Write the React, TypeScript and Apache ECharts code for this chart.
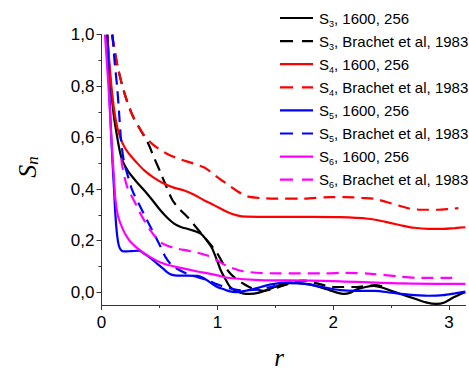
import React, { useEffect, useRef } from "react";
import * as echarts from "echarts";

const seriesNames = [
  "S3, 1600, 256",
  "S3, Brachet et al, 1983",
  "S4, 1600, 256",
  "S4, Brachet et al, 1983",
  "S5, 1600, 256",
  "S5, Brachet et al, 1983",
  "S6, 1600, 256",
  "S6, Brachet et al, 1983",
];
const seriesColors = ["#000000", "#000000", "#ff0000", "#ff0000", "#0000ff", "#0000ff", "#ff00ff", "#ff00ff"];
const seriesDashed = [false, true, false, true, false, true, false, true];

const s3Sim = [
  [0.05, 1.0], [0.08, 0.8], [0.105, 0.69], [0.125, 0.63], [0.17, 0.525], [0.225, 0.473], [0.3, 0.43],
  [0.37, 0.395], [0.44, 0.357], [0.51, 0.317], [0.57, 0.288], [0.63, 0.265], [0.69, 0.252], [0.74, 0.246],
  [0.8, 0.238], [0.86, 0.226], [0.91, 0.2], [0.95, 0.174], [1.0, 0.12], [1.03, 0.084], [1.07, 0.05],
  [1.11, 0.02], [1.17, 0.002], [1.23, -0.006], [1.28, -0.007], [1.36, -0.002], [1.45, 0.012], [1.54, 0.027],
  [1.62, 0.035], [1.72, 0.034], [1.8, 0.03], [1.88, 0.02], [1.95, 0.01], [2.02, 0.0], [2.09, -0.007],
  [2.15, -0.002], [2.2, 0.01], [2.28, 0.02], [2.35, 0.024], [2.42, 0.018], [2.5, 0.005], [2.6, -0.01],
  [2.7, -0.025], [2.8, -0.04], [2.89, -0.046], [2.96, -0.04], [3.04, -0.02], [3.1, -0.007], [3.14, 0.0],
];
const s3Brachet = [
  [0.09, 1.0], [0.136, 0.883], [0.194, 0.779], [0.266, 0.688], [0.34, 0.627], [0.4, 0.58], [0.456, 0.52],
  [0.514, 0.46], [0.56, 0.41], [0.614, 0.356], [0.68, 0.32], [0.744, 0.291], [0.82, 0.25], [0.888, 0.213],
  [0.95, 0.18], [1.0, 0.15], [1.05, 0.11], [1.09, 0.084], [1.13, 0.064], [1.21, 0.037], [1.3, 0.015],
  [1.4, 0.005], [1.5, 0.015], [1.6, 0.03], [1.74, 0.045], [1.85, 0.035], [2.0, 0.02], [2.2, 0.02],
  [2.36, 0.027], [2.45, 0.02],
];
const s4Sim = [
  [0.05, 1.0], [0.07, 0.88], [0.093, 0.766], [0.115, 0.69], [0.139, 0.635], [0.18, 0.58], [0.225, 0.545],
  [0.3, 0.505], [0.369, 0.473], [0.45, 0.445], [0.542, 0.421], [0.63, 0.405], [0.715, 0.395], [0.8, 0.378],
  [0.888, 0.356], [0.97, 0.338], [1.09, 0.31], [1.17, 0.298], [1.25, 0.293], [1.5, 0.292], [1.8, 0.292],
  [2.06, 0.291], [2.3, 0.285], [2.45, 0.273], [2.59, 0.259], [2.7, 0.25], [2.82, 0.246], [2.95, 0.246],
  [3.05, 0.249], [3.14, 0.252],
];
const s4Brachet = [
  [0.093, 1.0], [0.136, 0.883], [0.194, 0.779], [0.266, 0.688], [0.367, 0.61], [0.44, 0.575], [0.51, 0.552],
  [0.6, 0.53], [0.687, 0.515], [0.79, 0.5], [0.888, 0.484], [0.95, 0.464], [1.02, 0.44], [1.09, 0.418],
  [1.17, 0.393], [1.25, 0.373], [1.38, 0.365], [1.51, 0.363], [1.74, 0.363], [1.97, 0.369], [2.1, 0.369],
  [2.25, 0.366], [2.36, 0.362], [2.46, 0.35], [2.56, 0.337], [2.66, 0.325], [2.76, 0.32], [2.9, 0.32],
  [3.02, 0.324], [3.08, 0.326],
];
const s5Sim = [
  [0.05, 1.0], [0.07, 0.75], [0.093, 0.52], [0.108, 0.4], [0.12, 0.3], [0.135, 0.22], [0.15, 0.18],
  [0.17, 0.163], [0.194, 0.158], [0.25, 0.159], [0.323, 0.161], [0.36, 0.152], [0.395, 0.142], [0.44, 0.126],
  [0.482, 0.11], [0.53, 0.092], [0.568, 0.077], [0.61, 0.067], [0.655, 0.064], [0.74, 0.064], [0.83, 0.063],
  [0.88, 0.055], [0.93, 0.04], [1.0, 0.02], [1.05, 0.012], [1.1, 0.004], [1.16, 0.0], [1.23, 0.004],
  [1.31, 0.012], [1.45, 0.029], [1.55, 0.036], [1.62, 0.038], [1.7, 0.035], [1.8, 0.029], [1.93, 0.018],
  [2.06, 0.008], [2.2, 0.005], [2.36, 0.005], [2.5, -0.002], [2.65, -0.01], [2.82, -0.014], [2.95, -0.012],
  [3.05, -0.005], [3.14, 0.002],
];
const s5Brachet = [
  [0.095, 1.0], [0.113, 0.896], [0.136, 0.792], [0.153, 0.688], [0.17, 0.584], [0.194, 0.507], [0.222, 0.46],
  [0.266, 0.395], [0.337, 0.33], [0.424, 0.252], [0.497, 0.188], [0.554, 0.135], [0.6, 0.108], [0.655, 0.09],
  [0.74, 0.071], [0.83, 0.058], [0.92, 0.045], [1.0, 0.03], [1.1, 0.015], [1.2, 0.008], [1.35, 0.01],
  [1.5, 0.025],
];
const s6Sim = [
  [0.03, 1.0], [0.06, 0.8], [0.085, 0.6], [0.105, 0.46], [0.12, 0.36], [0.14, 0.3], [0.168, 0.262],
  [0.2, 0.23], [0.25, 0.196], [0.337, 0.161], [0.424, 0.135], [0.54, 0.11], [0.683, 0.094], [0.828, 0.08],
  [0.93, 0.072], [1.0, 0.065], [1.105, 0.055], [1.364, 0.047], [1.8, 0.045], [2.06, 0.042], [2.59, 0.034],
  [3.14, 0.032],
];
const s6Brachet = [
  [0.17, 0.52], [0.179, 0.49], [0.222, 0.408], [0.28, 0.356], [0.337, 0.304], [0.424, 0.239], [0.51, 0.194],
  [0.626, 0.172], [0.77, 0.159], [0.914, 0.142], [1.0, 0.123], [1.076, 0.103], [1.22, 0.081], [1.51, 0.073],
  [1.94, 0.073], [2.1, 0.075], [2.33, 0.071], [2.56, 0.061], [2.76, 0.055], [3.02, 0.055], [3.08, 0.055],
];
const seriesData = [s3Sim, s3Brachet, s4Sim, s4Brachet, s5Sim, s5Brachet, s6Sim, s6Brachet];

const yMajorTicks = [0, 0.2, 0.4, 0.6, 0.8, 1.0];
const yMinorTicks = [0.1, 0.3, 0.5, 0.7, 0.9];
const xMajorTicks = [0, 1, 2, 3];
const xMinorTicks = [0.5, 1.5, 2.5];

const AXIS_COLOR = "#333333";
const SANS = "Liberation Sans";
const SERIF = "Liberation Serif";
const LINE_W = 2.2;
const DASH = [12, 7];

function legendGraphics() {
  const left = 280;
  const top = 18;
  const step = 23.1;
  const items: any[] = [];
  seriesNames.forEach((name, i) => {
    const yc = top + i * step;
    items.push({
      type: "line",
      shape: { x1: left, y1: yc, x2: left + 33, y2: yc },
      style: {
        stroke: seriesColors[i],
        lineWidth: LINE_W,
        lineDash: seriesDashed[i] ? [13, 9] : null,
      },
    });
    const m = name.match(/^S(\d)(.*)$/);
    const rt = m ? `{a|S}{b|${m[1]}}{a|${m[2]}}` : name;
    items.push({
      type: "text",
      x: left + 39,
      y: yc,
      style: {
        text: rt,
        align: "left",
        verticalAlign: "middle",
        rich: {
          a: { fontSize: 15, lineHeight: 20, fontFamily: SANS, fill: "#000" },
          b: { fontSize: 9, lineHeight: 11, verticalAlign: "bottom", fontFamily: SANS, fill: "#000" },
        },
      },
    });
  });
  return items;
}

export default function App() {
  const ref = useRef<HTMLDivElement>(null);
  useEffect(() => {
    if (!ref.current) return;
    const chart = echarts.init(ref.current, null, { renderer: "svg" });
    const grid = { left: 101.5, right: 3.5, top: 34.7, bottom: 65, containLabel: false };
    const option: any = {
      animation: false,
      grid,
      xAxis: [
        {
          type: "value",
          min: 0,
          max: Math.PI,
          splitLine: { show: false },
          axisLine: { show: true, onZero: false, lineStyle: { color: AXIS_COLOR, width: 1 } },
          axisTick: { show: true, inside: false, length: 5, customValues: xMajorTicks, lineStyle: { color: AXIS_COLOR } },
          axisLabel: {
            customValues: xMajorTicks,
            margin: 9,
            color: "#000",
            fontFamily: SANS,
            fontSize: 17,
            formatter: (v: number) => String(v),
          },
        },
        {
          type: "value",
          min: 0,
          max: Math.PI,
          position: "bottom",
          splitLine: { show: false },
          axisLine: { show: false, onZero: false },
          axisTick: { show: true, inside: false, length: 3, customValues: xMinorTicks, lineStyle: { color: AXIS_COLOR } },
          axisLabel: { show: false },
        },
      ],
      yAxis: [
        {
          type: "value",
          min: -0.05,
          max: 1.0,
          splitLine: { show: false },
          axisLine: { show: true, onZero: false, lineStyle: { color: AXIS_COLOR, width: 1 } },
          axisTick: { show: true, inside: false, length: 5, customValues: yMajorTicks, lineStyle: { color: AXIS_COLOR } },
          axisLabel: {
            customValues: yMajorTicks,
            margin: 7,
            color: "#000",
            fontFamily: SANS,
            fontSize: 17,
            formatter: (v: number) => v.toFixed(1).replace(".", ","),
          },
        },
        {
          type: "value",
          min: -0.05,
          max: 1.0,
          position: "left",
          splitLine: { show: false },
          axisLine: { show: false, onZero: false },
          axisTick: { show: true, inside: false, length: 3, customValues: yMinorTicks, lineStyle: { color: AXIS_COLOR } },
          axisLabel: { show: false },
        },
      ],
      graphic: [
        {
          type: "text",
          x: 27,
          y: 167,
          rotation: Math.PI / 2,
          style: {
            text: "{a|S}{b|n}",
            align: "center",
            verticalAlign: "middle",
            rich: {
              a: { fontSize: 26, fontStyle: "italic", fontFamily: SERIF, lineHeight: 28, fill: "#000" },
              b: { fontSize: 17, fontStyle: "italic", fontFamily: SERIF, lineHeight: 16, verticalAlign: "bottom", fill: "#000" },
            },
          },
        },
        {
          type: "text",
          x: 279,
          y: 357,
          style: {
            text: "r",
            align: "center",
            verticalAlign: "middle",
            fontSize: 25,
            fontStyle: "italic",
            fontFamily: SERIF,
            fill: "#000",
          },
        },
        ...legendGraphics(),
      ],
      series: seriesNames.map((name, i) => ({
        name,
        type: "line",
        xAxisIndex: 0,
        yAxisIndex: 0,
        data: seriesData[i],
        smooth: 0.3,
        symbol: "none",
        showSymbol: false,
        clip: true,
        lineStyle: {
          color: seriesColors[i],
          width: LINE_W,
          type: seriesDashed[i] ? DASH : "solid",
        },
        itemStyle: { color: seriesColors[i] },
        z: 2,
      })),
    };
    chart.setOption(option);
    return () => chart.dispose();
  }, []);
  return <div ref={ref} style={{ width: 469, height: 370, position: "absolute", left: 0, top: 0 }} />;
}
